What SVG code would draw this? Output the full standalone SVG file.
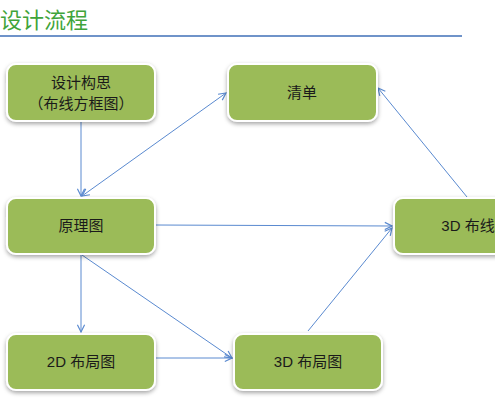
<svg xmlns="http://www.w3.org/2000/svg" width="495" height="400" viewBox="0 0 495 400">
<style>
.box{fill:#9bbb59;stroke:#ffffff;stroke-width:2;filter:url(#sh)}
.lbl{font-family:"Liberation Sans","Noto Sans CJK SC",sans-serif;font-size:15px;fill:#1a1a1a;text-anchor:middle}
.con{stroke:#5a8ad0;stroke-width:1;fill:none;marker-end:url(#ah)}
</style>
<defs>
<filter id="sh" x="-20%" y="-20%" width="140%" height="150%">
<feDropShadow dx="0" dy="2" stdDeviation="2" flood-color="#000" flood-opacity="0.35"/>
</filter>
<marker id="ah" viewBox="0 0 10 10" refX="9" refY="5" markerWidth="9" markerHeight="9" orient="auto-start-reverse" markerUnits="userSpaceOnUse">
<path d="M1,1 L9,5 L1,9" fill="none" stroke="#5a8ad0" stroke-width="1.3"/>
</marker>
</defs>
<rect width="495" height="400" fill="#ffffff"/>
<text x="0" y="28" font-family="Noto Sans CJK SC,sans-serif" font-size="22" fill="#3fa43a">设计流程</text>
<line x1="0" y1="36" x2="462" y2="36" stroke="#6f93c9" stroke-width="2"/>
<g id="connectors">
<line class="con" x1="81" y1="121" x2="81" y2="196"/>
<line class="con" x1="82" y1="196" x2="226" y2="93" style="marker-start:url(#ah)"/>
<line class="con" x1="156" y1="225" x2="392" y2="226"/>
<line class="con" x1="467" y1="197" x2="378" y2="88"/>
<line class="con" x1="81" y1="254" x2="81" y2="332"/>
<line class="con" x1="82" y1="255" x2="232" y2="358"/>
<line class="con" x1="156" y1="358" x2="232" y2="358"/>
<line class="con" x1="308" y1="331" x2="392" y2="228"/>
</g>
<g id="n1"><rect class="box" x="7" y="64" width="148" height="57" rx="9"/>
<text class="lbl" x="81" y="88">设计构思</text><text class="lbl" x="81" y="109">（布线方框图）</text></g>
<g id="n2"><rect class="box" x="228" y="64" width="149" height="57" rx="9"/>
<text class="lbl" x="302" y="98">清单</text></g>
<g id="n3"><rect class="box" x="7" y="198" width="148" height="56" rx="9"/>
<text class="lbl" x="81" y="231">原理图</text></g>
<g id="n4"><rect class="box" x="394" y="198" width="148" height="56" rx="9"/>
<text class="lbl" x="468" y="231">3D 布线</text></g>
<g id="n5"><rect class="box" x="7" y="334" width="148" height="56" rx="9"/>
<text class="lbl" x="81" y="367">2D 布局图</text></g>
<g id="n6"><rect class="box" x="234" y="334" width="148" height="56" rx="9"/>
<text class="lbl" x="308" y="367">3D 布局图</text></g>
</svg>
